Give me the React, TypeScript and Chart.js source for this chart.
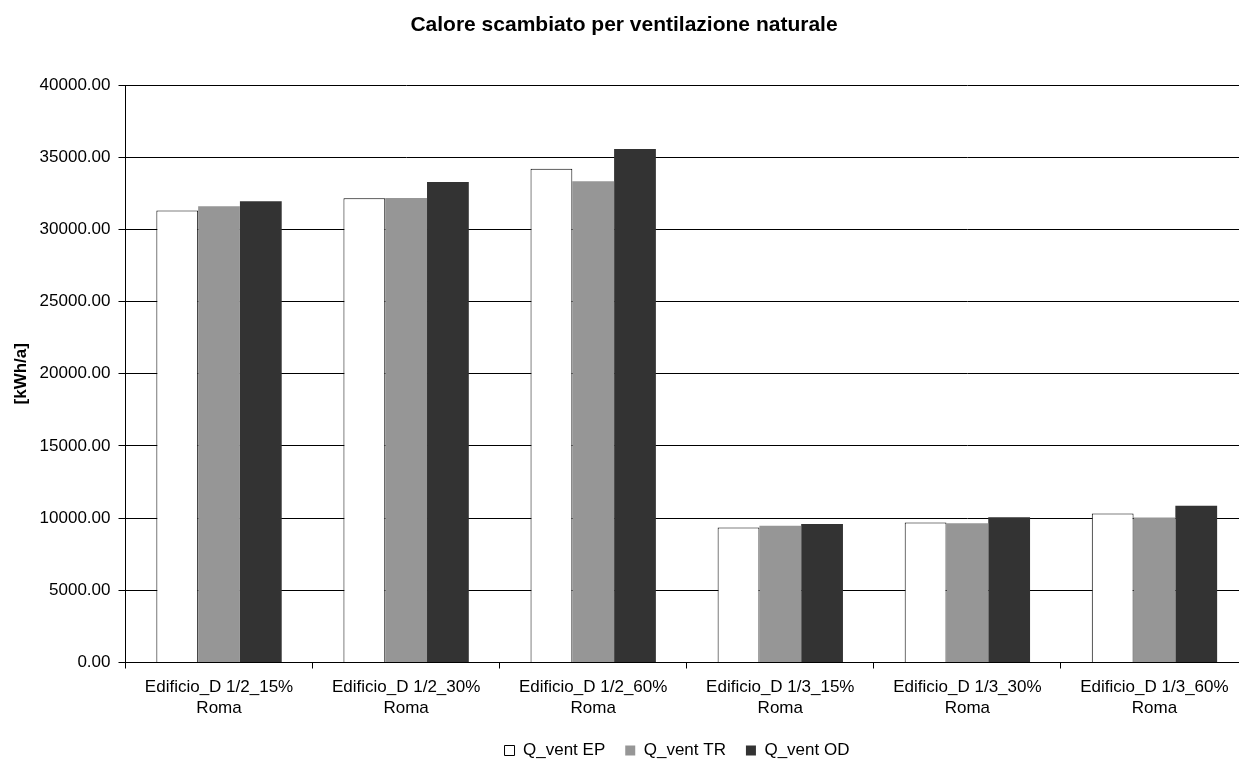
import React, { useEffect, useRef } from "react";
import { Chart, registerables } from "chart.js";

Chart.register(...registerables);

const chartTitle = "Calore scambiato per ventilazione naturale";
const yAxisTitle = "[kWh/a]";
const categories: string[][] = [
  ["Edificio_D 1/2_15%", "Roma"],
  ["Edificio_D 1/2_30%", "Roma"],
  ["Edificio_D 1/2_60%", "Roma"],
  ["Edificio_D 1/3_15%", "Roma"],
  ["Edificio_D 1/3_30%", "Roma"],
  ["Edificio_D 1/3_60%", "Roma"],
];
const seriesNames = ["Q_vent EP", "Q_vent TR", "Q_vent OD"];
const qVentEP = [31300, 32150, 34200, 9350, 9700, 10320];
const qVentTR = [31600, 32170, 33340, 9470, 9650, 10050];
const qVentOD = [31950, 33280, 35560, 9590, 10060, 10850];
const yMin = 0;
const yMax = 40000;
const yStep = 5000;

const FONT = "'Liberation Sans', Arial, sans-serif";

export default function App() {
  const ref = useRef<HTMLCanvasElement | null>(null);

  useEffect(() => {
    if (!ref.current) return;
    const legendShift = {
      id: "legendShift",
      afterLayout(chart: any) {
        const lg = chart.legend;
        if (!lg) return;
        const center = (lg.left + lg.right) / 2;
        const dx = 677 - center;
        lg.left += dx;
        lg.right += dx;
      },
    };
    const chart = new Chart(ref.current, {
      type: "bar",
      data: {
        labels: categories,
        datasets: [
          {
            label: seriesNames[0],
            data: qVentEP,
            backgroundColor: "#FFFFFF",
            borderColor: "#000000",
            borderWidth: 1,
          },
          {
            label: seriesNames[1],
            data: qVentTR,
            backgroundColor: "#969696",
            borderColor: "#969696",
            borderWidth: 0,
          },
          {
            label: seriesNames[2],
            data: qVentOD,
            backgroundColor: "#333333",
            borderColor: "#333333",
            borderWidth: 0,
          },
        ],
      },
      options: {
        responsive: false,
        animation: false,
        devicePixelRatio: 1,
        layout: { padding: { left: 0, right: 12, top: 0, bottom: 0 } },
        datasets: {
          bar: { categoryPercentage: 0.67, barPercentage: 1.0 },
        },
        plugins: {
          title: {
            display: true,
            text: chartTitle,
            color: "#000",
            font: { family: FONT, size: 21, weight: "bold" },
            padding: { top: 12.4, bottom: 47.4 },
          },
          legend: {
            display: true,
            position: "bottom",
            labels: {
              color: "#000",
              font: { family: FONT, size: 17 },
              boxWidth: 10,
              boxHeight: 10,
              padding: 20,
            },
          },
          tooltip: { enabled: false },
        },
        scales: {
          x: {
            afterFit(scale: any) {
              scale.height = 59.5;
            },
            grid: {
              display: true,
              drawOnChartArea: false,
              drawTicks: true,
              tickLength: 6,
              offset: true,
              color: "#000",
            },
            border: { display: true, color: "#000", width: 1 },
            ticks: {
              color: "#000",
              font: { family: FONT, size: 17 },
              padding: 9,
              maxRotation: 0,
              minRotation: 0,
              autoSkip: false,
            },
          },
          y: {
            min: yMin,
            max: yMax,
            afterFit(scale: any) {
              scale.width = 125.5;
            },
            grid: {
              display: true,
              color: "#000",
              lineWidth: 1,
              drawTicks: true,
              tickLength: 7,
            },
            border: { display: true, color: "#000", width: 1 },
            ticks: {
              stepSize: yStep,
              color: "#000",
              font: { family: FONT, size: 17 },
              padding: 8,
              callback: (v: any) => Number(v).toFixed(2),
            },
            title: {
              display: true,
              text: yAxisTitle,
              color: "#000",
              font: { family: FONT, size: 17, weight: "bold" },
              padding: { top: 11.3, bottom: 0 },
            },
          },
        },
      },
      plugins: [legendShift],
    });
    return () => chart.destroy();
  }, []);

  return (
    <div
      style={{
        position: "fixed",
        left: 0,
        top: 0,
        width: 1239,
        height: 760,
        overflow: "hidden",
        background: "#fff",
      }}
    >
      <canvas ref={ref} width={1260} height={769} style={{ display: "block" }} />
    </div>
  );
}
